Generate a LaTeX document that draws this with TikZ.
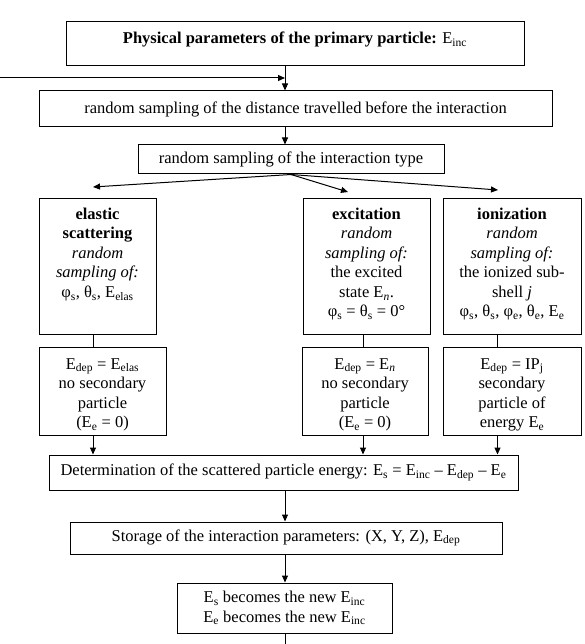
\documentclass[tikz,border=0pt]{standalone}
\usepackage{fontspec}
\setmainfont{Liberation Serif}
\usetikzlibrary{positioning,arrows.meta}
\newcommand{\ix}[1]{\textsubscript{#1}}
\newcommand{\cell}[4][9pt]{\parbox[c][#3][t]{#2}{\centering\vspace*{#1}#4\par}}

\begin{document}
\begin{tikzpicture}[x=1pt, y=-1pt, line width=1pt,
    every node/.style={draw, inner sep=0pt, font=\fontsize{16.5}{19.5}\selectfont},
    arr/.style={-{Triangle[length=7pt,width=6pt]}}]
    \useasboundingbox (0,0) rectangle (585,644);
    \coordinate (axis) at (285,0);
    \coordinate (col1) at (93,0);
    \coordinate (col2) at (363,0);
    \coordinate (col3) at (497.5,0);
    \coordinate (back) at (0,78);
    \coordinate (join) at (285,78);
    \coordinate (tip1) at (93,187);
    \coordinate (tip2) at (348,192);
    \coordinate (tip3) at (498,190);
    \coordinate (out) at (285,644);

    \node (phys) at (295,44) {\cell[10pt]{458pt}{44pt}{\textbf{Physical parameters of the primary particle:} E\ix{inc}}};
    \node[minimum width=513pt, minimum height=36pt] (dist) at (295.5,109) {random sampling of the distance travelled before the interaction};
    \node[minimum width=306pt, minimum height=29pt] (itype) at (291,159.5) {random sampling of the interaction type};

    \node (elas) at (97.5,266.5) {\cell{117pt}{135pt}{\textbf{elastic}\\ \textbf{scattering}\\ \textit{random}\\ \textit{sampling of:}\\ φ\ix{s}, θ\ix{s}, E\ix{elas}}};
    \node (exc) at (366.5,266.5) {\cell{127pt}{135pt}{\textbf{excitation}\\ \textit{random}\\ \textit{sampling of:}\\ the excited\\ state E\ix{\textit{n}}.\\ φ\ix{s} = θ\ix{s} = 0°}};
    \node (ion) at (512,266.5) {\cell{138pt}{135pt}{\textbf{ionization}\\ \textit{random}\\ \textit{sampling of:}\\ the ionized sub-\\ shell \textit{j}\\ φ\ix{s}, θ\ix{s}, φ\ix{e}, θ\ix{e}, E\ix{e}}};

    \node (elasdep) at (102.5,391) {\cell[11.5pt]{127pt}{88pt}{E\ix{dep} = E\ix{elas}\\ no secondary\\ particle\\ (E\ix{e} = 0)}};
    \node (excdep) at (365,391) {\cell[11.5pt]{126pt}{88pt}{E\ix{dep} = E\ix{\textit{n}}\\ no secondary\\ particle\\ (E\ix{e} = 0)}};
    \node (iondep) at (512,391) {\cell[11.5pt]{138pt}{88pt}{E\ix{dep} = IP\ix{j}\\ secondary\\ particle of\\ energy E\ix{e}}};

    \node[minimum width=469pt, minimum height=35pt] (energy) at (283.5,472.5) {Determination of the scattered particle energy: E\ix{s} = E\ix{inc} – E\ix{dep} – E\ix{e}};
    \node[minimum width=432pt, minimum height=32pt] (store) at (286,538) {Storage of the interaction parameters: (X, Y, Z), E\ix{dep}};
    \node[minimum width=215pt, minimum height=50pt, align=center] (newinc) at (284.5,608) {E\ix{s} becomes the new E\ix{inc}\\ E\ix{e} becomes the new E\ix{inc}};

    \draw[arr] (phys.south -| axis) -- (dist.north -| axis);
    \draw[arr] (back) -- (join);
    \draw[arr] (dist.south -| axis) -- (itype.north -| axis);
    \draw[arr] (itype.south) -- (tip1);
    \draw[arr] (itype.south) -- (tip2);
    \draw[arr] (itype.south) -- (tip3);

    \draw (elas.south -| col1) -- (elasdep.north -| col1);
    \draw (exc.south -| col2) -- (excdep.north -| col2);
    \draw (ion.south -| col3) -- (iondep.north -| col3);
    \draw[arr] (elasdep.south -| col1) -- (energy.north -| col1);
    \draw[arr] (excdep.south -| col2) -- (energy.north -| col2);
    \draw[arr] (iondep.south -| col3) -- (energy.north -| col3);

    \draw[arr] (energy.south -| axis) -- (store.north -| axis);
    \draw[arr] (store.south -| axis) -- (newinc.north -| axis);
    \draw (newinc.south -| axis) -- (out);
\end{tikzpicture}
\end{document}
